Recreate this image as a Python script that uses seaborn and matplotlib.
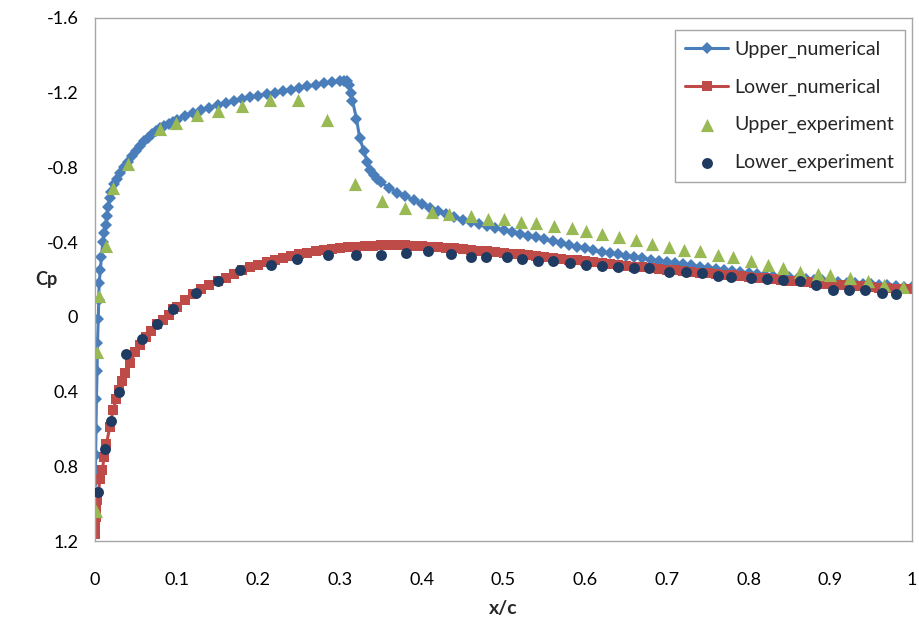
import matplotlib
matplotlib.use("Agg")
import matplotlib.pyplot as plt
import seaborn as sns
from matplotlib.ticker import FuncFormatter, MultipleLocator

# Upper surface, numerical
upper_num_x = [0.0, 0.0003, 0.0008, 0.0012, 0.0017, 0.0025, 0.003, 0.004, 0.0045, 0.005,
               0.0065, 0.0078, 0.0095, 0.0115, 0.013, 0.0145, 0.016, 0.018, 0.020, 0.023,
               0.027, 0.031, 0.035, 0.040, 0.045, 0.05, 0.055, 0.06, 0.065, 0.07, 0.075,
               0.08, 0.085, 0.09, 0.095, 0.10, 0.11, 0.12, 0.13, 0.14, 0.15, 0.16, 0.17,
               0.18, 0.19, 0.20, 0.21, 0.22, 0.23, 0.24, 0.25, 0.26, 0.27, 0.28, 0.29,
               0.30, 0.305, 0.308, 0.311, 0.313, 0.315, 0.320, 0.324, 0.329, 0.333, 0.337,
               0.341, 0.345, 0.35, 0.36, 0.37, 0.38, 0.39, 0.40, 0.41, 0.42, 0.43, 0.44,
               0.45, 0.46, 0.47, 0.48, 0.49, 0.50, 0.51, 0.52, 0.53, 0.54, 0.55, 0.56,
               0.57, 0.58, 0.59, 0.60, 0.61, 0.62, 0.63, 0.64, 0.65, 0.66, 0.67, 0.68,
               0.69, 0.70, 0.71, 0.72, 0.73, 0.74, 0.75, 0.76, 0.77, 0.78, 0.79, 0.80,
               0.81, 0.82, 0.83, 0.84, 0.85, 0.86, 0.87, 0.88, 0.89, 0.90, 0.91, 0.92,
               0.93, 0.94, 0.95, 0.96, 0.97, 0.98, 0.99, 1.00]
upper_num_cp = [1.00, 0.88, 0.74, 0.60, 0.44, 0.29, 0.14, 0.01, -0.09, -0.18,
                -0.25, -0.32, -0.40, -0.45, -0.49, -0.54, -0.59, -0.635, -0.67, -0.71,
                -0.74, -0.77, -0.80, -0.83, -0.86, -0.89, -0.915, -0.94, -0.96, -0.98, -0.995,
                -1.01, -1.022, -1.035, -1.045, -1.055, -1.075, -1.09, -1.105, -1.12, -1.135, -1.145, -1.155,
                -1.165, -1.175, -1.185, -1.195, -1.20, -1.21, -1.215, -1.225, -1.235, -1.24, -1.25, -1.255,
                -1.26, -1.265, -1.26, -1.24, -1.20, -1.158, -1.06, -0.957, -0.889, -0.831, -0.787,
                -0.76, -0.74, -0.72, -0.69, -0.665, -0.645, -0.625, -0.605, -0.585, -0.565, -0.55, -0.535,
                -0.52, -0.51, -0.495, -0.485, -0.475, -0.465, -0.455, -0.445, -0.435, -0.425, -0.415, -0.405,
                -0.395, -0.385, -0.375, -0.366, -0.357, -0.349, -0.342, -0.335, -0.328, -0.321, -0.314, -0.307,
                -0.30, -0.293, -0.287, -0.281, -0.275, -0.269, -0.263, -0.257, -0.251, -0.245, -0.24, -0.235,
                -0.23, -0.226, -0.221, -0.216, -0.212, -0.208, -0.203, -0.199, -0.195, -0.19, -0.186, -0.183,
                -0.18, -0.177, -0.174, -0.171, -0.168, -0.165, -0.162, -0.159]

# Lower surface, numerical
lower_num_x = [0.0, 0.0003, 0.0008, 0.0015, 0.003, 0.006, 0.009, 0.011, 0.014, 0.018,
               0.022, 0.026, 0.029, 0.033, 0.037, 0.043, 0.049, 0.055, 0.062, 0.069,
               0.076, 0.083, 0.090, 0.096, 0.10, 0.11, 0.12, 0.13, 0.14, 0.15, 0.16,
               0.17, 0.18, 0.19, 0.20, 0.21, 0.22, 0.23, 0.24, 0.25, 0.26, 0.27, 0.28,
               0.29, 0.30, 0.31, 0.32, 0.33, 0.34, 0.35, 0.36, 0.37, 0.38, 0.39, 0.40,
               0.41, 0.42, 0.43, 0.44, 0.45, 0.46, 0.47, 0.48, 0.49, 0.50, 0.51, 0.52,
               0.53, 0.54, 0.55, 0.56, 0.57, 0.58, 0.59, 0.60, 0.61, 0.62, 0.63, 0.64,
               0.65, 0.66, 0.67, 0.68, 0.69, 0.70, 0.71, 0.72, 0.73, 0.74, 0.75, 0.76,
               0.77, 0.78, 0.79, 0.80, 0.81, 0.82, 0.83, 0.84, 0.85, 0.86, 0.87, 0.88,
               0.89, 0.90, 0.91, 0.92, 0.93, 0.94, 0.95, 0.96, 0.97, 0.98, 0.99, 1.00]
lower_num_cp = [1.16, 1.12, 1.07, 1.02, 0.98, 0.87, 0.82, 0.75, 0.68, 0.59,
                0.50, 0.44, 0.39, 0.345, 0.30, 0.245, 0.19, 0.15, 0.11, 0.075,
                0.04, 0.015, -0.01, -0.04, -0.055, -0.09, -0.12, -0.15, -0.17, -0.19, -0.21,
                -0.23, -0.25, -0.265, -0.28, -0.295, -0.305, -0.315, -0.325, -0.335, -0.342, -0.35, -0.357,
                -0.363, -0.368, -0.372, -0.376, -0.379, -0.381, -0.383, -0.384, -0.384, -0.383, -0.381, -0.379,
                -0.376, -0.373, -0.37, -0.366, -0.362, -0.358, -0.354, -0.35, -0.346, -0.342, -0.338, -0.334,
                -0.33, -0.326, -0.322, -0.317, -0.312, -0.307, -0.302, -0.297, -0.292, -0.287, -0.282, -0.277,
                -0.273, -0.269, -0.265, -0.261, -0.257, -0.253, -0.249, -0.245, -0.241, -0.237, -0.233, -0.229,
                -0.225, -0.222, -0.218, -0.214, -0.21, -0.206, -0.202, -0.198, -0.194, -0.19, -0.186, -0.182,
                -0.178, -0.175, -0.172, -0.169, -0.166, -0.163, -0.16, -0.157, -0.154, -0.151, -0.149, -0.147]

# Upper surface, experiment
upper_exp_x = [0.001, 0.003, 0.005, 0.013, 0.022, 0.040, 0.080, 0.099, 0.125, 0.150,
               0.180, 0.214, 0.249, 0.284, 0.318, 0.351, 0.380, 0.413, 0.433, 0.460,
               0.481, 0.501, 0.521, 0.540, 0.562, 0.584, 0.601, 0.621, 0.641, 0.662,
               0.682, 0.702, 0.721, 0.741, 0.762, 0.781, 0.803, 0.824, 0.842, 0.863,
               0.885, 0.900, 0.924, 0.946, 0.966, 0.989]
upper_exp_cp = [1.04, 0.19, -0.11, -0.38, -0.69, -0.82, -1.006, -1.04, -1.078, -1.10,
                -1.128, -1.16, -1.16, -1.056, -0.71, -0.62, -0.585, -0.56, -0.55, -0.54,
                -0.525, -0.526, -0.51, -0.505, -0.485, -0.476, -0.46, -0.443, -0.43, -0.41,
                -0.39, -0.375, -0.36, -0.35, -0.33, -0.32, -0.30, -0.275, -0.26, -0.24,
                -0.23, -0.225, -0.21, -0.19, -0.17, -0.16]

# Lower surface, experiment
lower_exp_x = [0.004, 0.012, 0.020, 0.029, 0.038, 0.057, 0.076, 0.096, 0.123, 0.150,
               0.178, 0.215, 0.247, 0.285, 0.319, 0.350, 0.381, 0.408, 0.436, 0.460,
               0.478, 0.504, 0.523, 0.542, 0.560, 0.581, 0.601, 0.621, 0.640, 0.660,
               0.678, 0.703, 0.723, 0.743, 0.762, 0.778, 0.803, 0.823, 0.842, 0.863,
               0.882, 0.903, 0.923, 0.943, 0.963, 0.980]
lower_exp_cp = [0.94, 0.71, 0.56, 0.40, 0.20, 0.12, 0.04, -0.04, -0.13, -0.19,
                -0.25, -0.28, -0.31, -0.33, -0.33, -0.33, -0.34, -0.35, -0.335, -0.32,
                -0.32, -0.32, -0.31, -0.30, -0.30, -0.29, -0.28, -0.27, -0.265, -0.26,
                -0.26, -0.24, -0.24, -0.235, -0.22, -0.215, -0.21, -0.20, -0.195, -0.19,
                -0.17, -0.145, -0.145, -0.145, -0.13, -0.12]

sns.set_theme(style="white")
plt.rcParams["font.family"] = ["Lato", "DejaVu Sans"]
plt.rcParams["axes.unicode_minus"] = False

fig = plt.figure(figsize=(9.2, 6.2), dpi=100)
ax = fig.add_axes([0.1033, 0.1274, 0.888, 0.8436])

sns.lineplot(x=upper_num_x, y=upper_num_cp, sort=False, estimator=None, ax=ax,
             color="#4A7EBB", linewidth=2.2, marker="D", markersize=6.5,
             markeredgewidth=0, label="Upper_numerical")
sns.lineplot(x=lower_num_x, y=lower_num_cp, sort=False, estimator=None, ax=ax,
             color="#BE4B48", linewidth=2.2, marker="s", markersize=7,
             markeredgewidth=0, label="Lower_numerical")
sns.scatterplot(x=upper_exp_x, y=upper_exp_cp, ax=ax, color="#98B954", marker="^",
                s=90, linewidth=0, label="Upper_experiment", zorder=3)
sns.scatterplot(x=lower_exp_x, y=lower_exp_cp, ax=ax, color="#1F3B61", marker="o",
                s=62, linewidth=0, label="Lower_experiment", zorder=3)

ax.set_xlim(0, 1)
ax.set_ylim(1.2, -1.6)
ax.xaxis.set_major_locator(MultipleLocator(0.1))
ax.yaxis.set_major_locator(MultipleLocator(0.4))
ax.xaxis.set_major_formatter(FuncFormatter(lambda v, p: "0" if abs(v) < 1e-9 else ("1" if abs(v - 1) < 1e-9 else f"{v:.1f}")))
ax.yaxis.set_major_formatter(FuncFormatter(lambda v, p: "0" if abs(v) < 1e-9 else f"{v:.1f}"))

for s in ax.spines.values():
    s.set_color("#A6A6A6")
    s.set_linewidth(1.0)
ax.tick_params(axis="both", which="major", direction="out", length=6, width=1,
               color="#A6A6A6", labelsize=13, labelcolor="#000000", pad=6)
ax.tick_params(axis="x", pad=16)

ax.set_xlabel("x/c", fontsize=14, fontweight="bold", labelpad=9)
ax.set_ylabel("Cp", fontsize=13, fontweight="bold", rotation=0, labelpad=0, va="center")

leg = ax.legend(loc="upper right", bbox_to_anchor=(0.991, 0.977), fontsize=14,
                frameon=True, fancybox=False, framealpha=1, edgecolor="#A6A6A6",
                labelspacing=1.05, handlelength=2.2, handletextpad=0.3,
                borderpad=0.55, borderaxespad=0)
leg.get_frame().set_linewidth(1.0)

fig.savefig("out.png", dpi=100)
